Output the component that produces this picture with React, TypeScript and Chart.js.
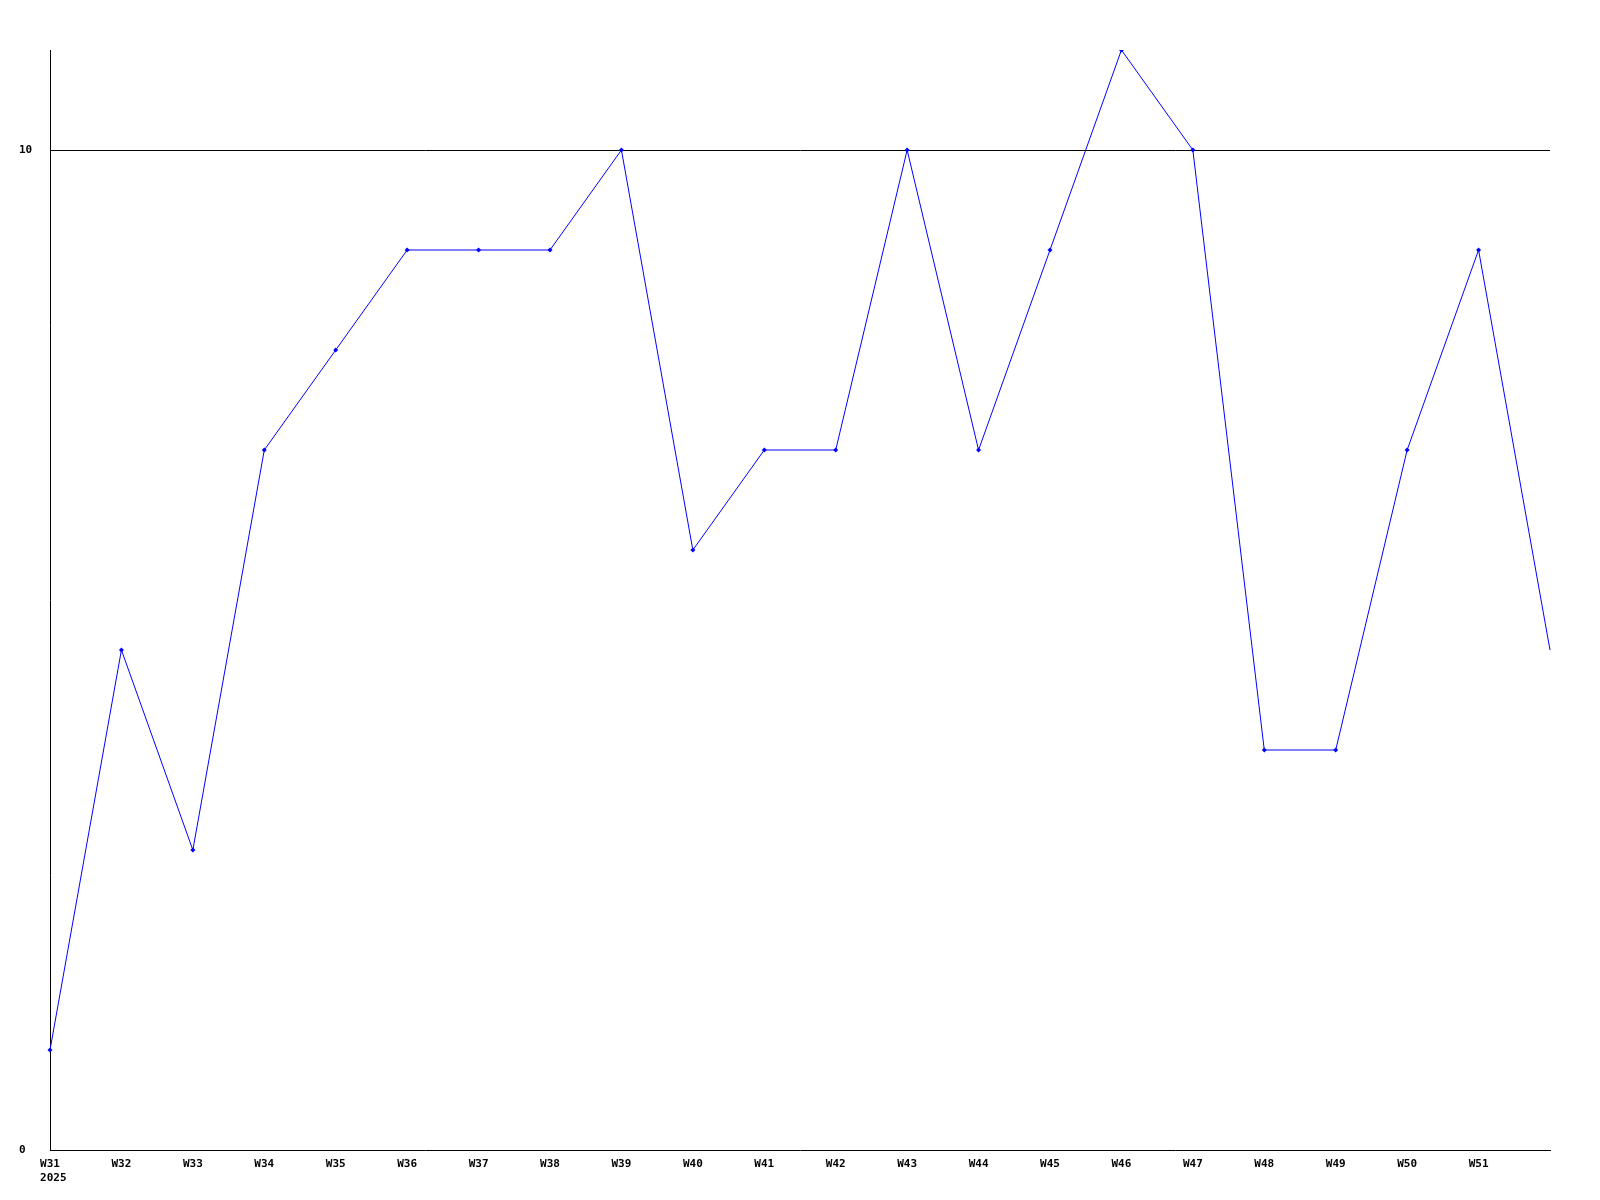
import React, { useEffect, useRef } from "react";
import { Chart, registerables } from "chart.js";

Chart.register(...registerables);

const weeks = ["W31", "W32", "W33", "W34", "W35", "W36", "W37", "W38", "W39", "W40", "W41", "W42", "W43", "W44", "W45", "W46", "W47", "W48", "W49", "W50", "W51", ""];
const yearLabel = "2025";
const values = [1, 5, 3, 7, 8, 9, 9, 9, 10, 6, 7, 7, 10, 7, 9, 11, 10, 4, 4, 7, 9, 5];
const yTicks = [0, 10];
const gridValue = 10;

export default function App() {
  const ref = useRef<HTMLCanvasElement>(null);
  useEffect(() => {
    if (!ref.current) return;
    const labels: any[] = weeks.map((w, i) => (i === 0 ? [w, " " + yearLabel] : w));
    const font = { family: "'DejaVu Sans Mono', 'Liberation Mono', monospace", size: 11, weight: "bold" as const };
    const chart = new Chart(ref.current, {
      type: "line",
      data: {
        labels,
        datasets: [
          {
            data: values,
            borderColor: "#0000ff",
            backgroundColor: "#0000ff",
            borderWidth: 1,
            tension: 0,
            pointStyle: "rectRot",
            pointRadius: values.map((_, i) => (i === values.length - 1 ? 0 : 2.5)),
            pointBorderWidth: 0,
            pointBackgroundColor: "#0000ff",
            fill: false,
          },
        ],
      },
      options: {
        animation: false,
        responsive: false,
        maintainAspectRatio: false,
        layout: { padding: { left: 19, top: 50, right: 50, bottom: 0 } },
        plugins: { legend: { display: false }, tooltip: { enabled: false } },
        scales: {
          x: {
            type: "category",
            offset: false,
            grid: { display: false, drawTicks: false },
            border: { display: true, color: "#000", width: 1 },
            ticks: {
              color: "#000",
              font,
              padding: 8,
              autoSkip: false,
              maxRotation: 0,
              minRotation: 0,
            },
            afterFit: (s: any) => {
              s.height = 50;
            },
          },
          y: {
            min: 0,
            max: 11,
            grid: {
              drawTicks: false,
              color: (ctx: any) => (ctx.tick && ctx.tick.value === gridValue ? "#000" : "rgba(0,0,0,0)"),
              lineWidth: 1,
            },
            border: { display: true, color: "#000", width: 1 },
            afterBuildTicks: (s: any) => {
              s.ticks = yTicks.map((v) => ({ value: v }));
            },
            ticks: {
              color: "#000",
              font,
              padding: 0,
              crossAlign: "far",
            },
            afterFit: (s: any) => {
              s.width = 31;
            },
          },
        },
      },
    });
    return () => chart.destroy();
  }, []);
  return (
    <div style={{ position: "absolute", left: 0, top: 0, width: 1600, height: 1200, background: "#fff" }}>
      <canvas ref={ref} width={1600} height={1200} style={{ width: 1600, height: 1200 }} />
    </div>
  );
}
